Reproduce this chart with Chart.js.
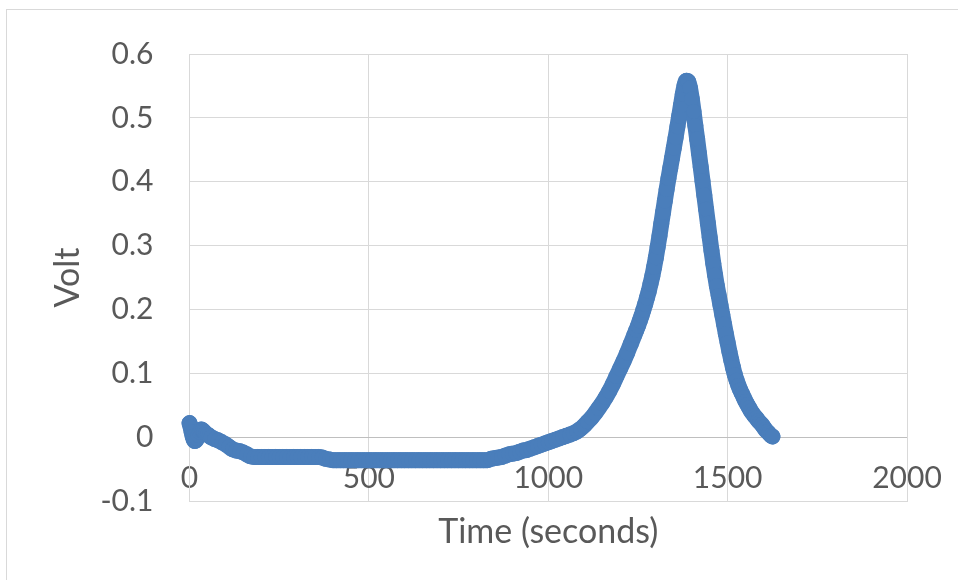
<!DOCTYPE html>
<html>
<head>
<meta charset="utf-8">
<script src="https://cdn.jsdelivr.net/npm/chart.js@4/dist/chart.umd.min.js"></script>
<style>
  html, body { margin: 0; padding: 0; background: #fff; overflow: hidden; }
  #frame { position: absolute; left: 6px; top: 9px; width: 1000px; height: 700px; border: 1px solid #d9d9d9; }
  #chart { position: absolute; left: 0; top: 0; }
</style>
</head>
<body>
<div id="frame"></div>
<canvas id="chart" width="958" height="580"></canvas>
<script>
// time in seconds
var timeSec = [
  0, 3, 6, 9, 12, 15, 18, 21, 24, 27, 30, 33, 36, 40, 45, 50, 55, 60,
  70, 80, 90, 100, 110, 120, 130, 140, 150, 160, 170,
  180, 190, 200, 210, 220, 230, 240, 250, 260, 270,
  280, 290, 300, 310, 320, 330, 340, 350, 360, 370,
  380, 390, 400, 410, 420, 430, 440, 450, 460, 470,
  480, 490, 500, 510, 520, 530, 540, 550, 560, 570,
  580, 590, 600, 610, 620, 630, 640, 650, 660, 670,
  680, 690, 700, 710, 720, 730, 740, 750, 760, 770,
  780, 790, 800, 810, 820, 830, 840, 850, 860, 870,
  880, 890, 900, 910, 920, 930, 940, 950, 960, 970,
  980, 990, 1000, 1010, 1020, 1030, 1040, 1050, 1060, 1070,
  1080, 1090, 1100, 1110, 1120, 1130, 1140, 1150, 1160, 1170,
  1180, 1190, 1200, 1210, 1220, 1230, 1240,
  1245, 1250, 1255, 1260, 1265, 1270, 1275, 1280, 1285, 1290,
  1295, 1300, 1305, 1310, 1315, 1320, 1325, 1330, 1335, 1340,
  1345, 1350, 1355, 1360, 1365, 1370, 1375, 1380, 1385, 1390,
  1395, 1400, 1405, 1410, 1415, 1420, 1425, 1430, 1435, 1440,
  1445, 1450, 1455, 1460, 1465, 1470, 1475, 1480, 1485, 1490,
  1495, 1500, 1505, 1510, 1515, 1520, 1525, 1530, 1535, 1540,
  1545, 1550, 1555, 1560, 1565, 1570, 1575, 1580, 1585, 1590,
  1595, 1600, 1605, 1610, 1615, 1620, 1625
];

var volt = [
  0.022, 0.016, 0.008, 0.001, -0.004, -0.006, -0.005, -0.002, 0.003, 0.008, 0.011, 0.012, 0.011, 0.009, 0.006, 0.004, 0.002, 0.000,
  -0.003, -0.005, -0.008, -0.011, -0.015, -0.019, -0.021, -0.022, -0.024, -0.027, -0.030,
  -0.031, -0.031, -0.031, -0.031, -0.031, -0.031, -0.031, -0.031, -0.031, -0.031,
  -0.031, -0.031, -0.031, -0.031, -0.031, -0.031, -0.031, -0.031, -0.031, -0.032,
  -0.034, -0.035, -0.036, -0.036, -0.036, -0.036, -0.036, -0.036, -0.036, -0.036,
  -0.036, -0.036, -0.036, -0.036, -0.036, -0.036, -0.036, -0.036, -0.036, -0.036,
  -0.036, -0.036, -0.036, -0.036, -0.036, -0.036, -0.036, -0.036, -0.036, -0.036,
  -0.036, -0.036, -0.036, -0.036, -0.036, -0.036, -0.036, -0.036, -0.036, -0.036,
  -0.036, -0.036, -0.036, -0.036, -0.036, -0.036, -0.034, -0.033, -0.032, -0.031,
  -0.029, -0.027, -0.026, -0.025, -0.023, -0.021, -0.020, -0.018, -0.016, -0.014,
  -0.012, -0.010, -0.008, -0.006, -0.004, -0.002, 0.000, 0.002, 0.004, 0.006,
  0.009, 0.013, 0.018, 0.024, 0.030, 0.037, 0.045, 0.053, 0.062, 0.072,
  0.083, 0.095, 0.107, 0.119, 0.132, 0.146, 0.160,
  0.167, 0.174, 0.182, 0.190, 0.199, 0.208, 0.218, 0.228, 0.240, 0.252,
  0.266, 0.281, 0.298, 0.315, 0.334, 0.352, 0.370, 0.388, 0.405, 0.421,
  0.437, 0.453, 0.469, 0.486, 0.503, 0.520, 0.537, 0.551, 0.558, 0.557,
  0.547, 0.530, 0.510, 0.488, 0.467, 0.445, 0.423, 0.401, 0.379, 0.357,
  0.335, 0.313, 0.292, 0.272, 0.254, 0.237, 0.222, 0.207, 0.192, 0.177,
  0.162, 0.148, 0.134, 0.121, 0.109, 0.098, 0.089, 0.081, 0.074, 0.068,
  0.062, 0.056, 0.051, 0.046, 0.041, 0.037, 0.033, 0.030, 0.026, 0.023,
  0.020, 0.016, 0.012, 0.009, 0.006, 0.003, 0.001
];

var xTicks = [0, 500, 1000, 1500, 2000];
var yTicks = [-0.1, 0, 0.1, 0.2, 0.3, 0.4, 0.5, 0.6];

var textColor = '#595959';
var gridColor = '#d9d9d9';
var blue = '#4a7ebb';

var points = timeSec.map(function (t, i) {
  return { x: t, y: volt[i] };
});

var ctx = document.querySelector('#chart').getContext('2d');

var chart = new Chart(ctx, {
  type: 'scatter',
  data: {
    datasets: [{
      label: 'Volt',
      data: points,
      backgroundColor: blue,
      borderColor: blue,
      // markers are so dense in the original that they merge into a band
      showLine: true,
      cubicInterpolationMode: 'monotone',
      borderWidth: 16,
      borderCapStyle: 'round',
      borderJoinStyle: 'round',
      pointBorderWidth: 1,
      pointRadius: 7.5,
      pointHoverRadius: 7.5,
      clip: false
    }]
  },
  options: {
    responsive: false,
    animation: false,
    events: [],
    layout: {
      padding: { left: 0, right: 51, top: 46, bottom: 0 }
    },
    plugins: {
      legend: { display: false },
      tooltip: { enabled: false }
    },
    scales: {
      x: {
        type: 'linear',
        min: xTicks[0],
        max: xTicks[xTicks.length - 1],
        afterBuildTicks: function (scale) {
          scale.ticks = xTicks.map(function (v) { return { value: v }; });
        },
        afterFit: function (scale) { scale.height = 79; },
        grid: { color: gridColor, drawTicks: false },
        border: { color: gridColor },
        ticks: {
          color: textColor,
          font: { family: 'Lato', size: 30 },
          mirror: true,
          padding: 5,
          maxRotation: 0,
          autoSkip: false,
          callback: function (v) { return String(v); }
        },
        title: {
          display: true,
          text: 'Time (seconds)',
          color: textColor,
          font: { family: 'Lato', size: 34 },
          padding: { top: 0, bottom: 28 }
        }
      },
      y: {
        type: 'linear',
        min: yTicks[0],
        max: yTicks[yTicks.length - 1],
        afterBuildTicks: function (scale) {
          scale.ticks = yTicks.map(function (v) { return { value: v }; });
        },
        afterFit: function (scale) { scale.width = 189.5; },
        grid: {
          color: function (c) {
            return c.tick && Math.abs(c.tick.value) < 1e-9 ? '#bfbfbf' : gridColor;
          },
          drawTicks: false
        },
        border: { color: gridColor },
        ticks: {
          color: textColor,
          font: { family: 'Lato', size: 30 },
          padding: 36,
          callback: function (v) { return String(Number(v.toFixed(1))); }
        },
        title: {
          display: true,
          text: 'Volt',
          color: textColor,
          font: { family: 'Lato', size: 34 },
          padding: { top: 48, bottom: 0 }
        }
      }
    }
  }
});
</script>
</body>
</html>
